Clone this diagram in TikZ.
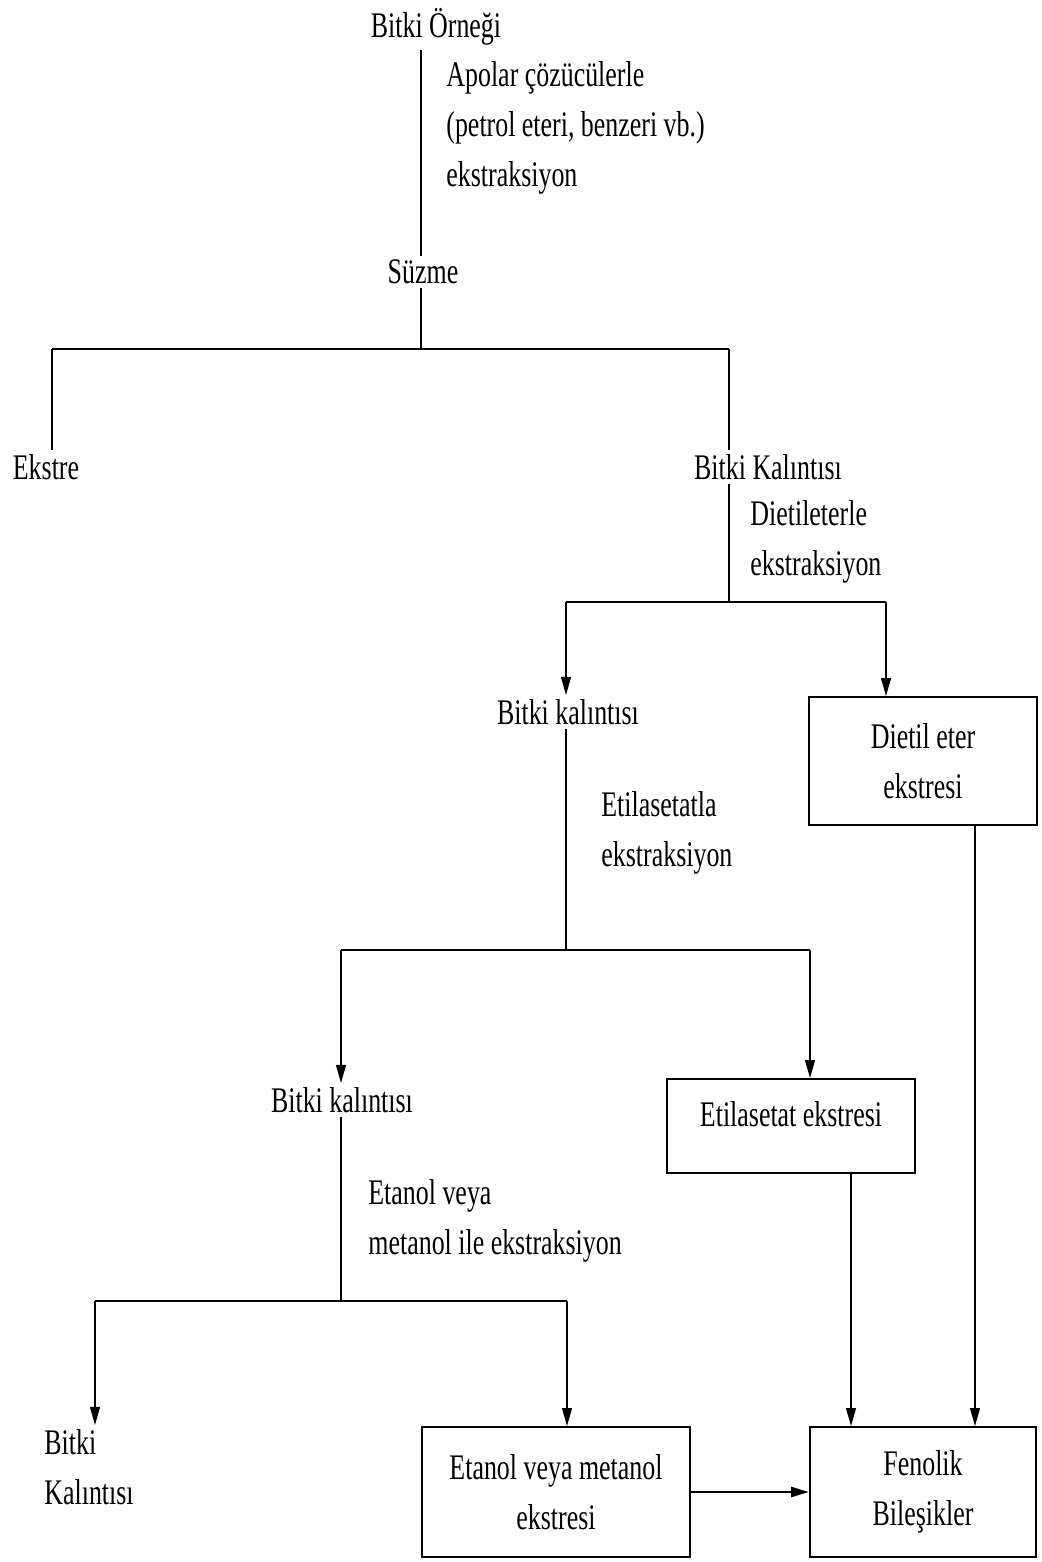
\documentclass[tikz,border=0pt]{standalone}
\usepackage{fontspec}
\setmainfont{Liberation Serif}[FakeStretch=0.72]
\usetikzlibrary{arrows.meta}

\tikzset{
  lbl/.style={inner sep=2pt, font=\fontsize{18}{25}\selectfont},
  note/.style={lbl, anchor=west, align=left},
  kutu/.style={lbl, draw, line width=1pt, align=center},
  bar/.style={line width=1.3pt},
  dusey/.style={line width=0.6pt},
  ok/.style={dusey, -{Triangle[width=5pt,length=9pt]}},
}

\begin{document}
\begin{tikzpicture}[x=0.5pt,y=-0.5pt]
        \useasboundingbox (0,0) rectangle (1041,1562);

        % branch points
        \coordinate (s1)  at (421,349);
        \coordinate (s1l) at (52,349);
        \coordinate (s1r) at (729,349);
        \coordinate (s2)  at (729,602);
        \coordinate (s2l) at (566,602);
        \coordinate (s2r) at (886,602);
        \coordinate (s3)  at (566,950);
        \coordinate (s3l) at (341,950);
        \coordinate (s3r) at (810,950);
        \coordinate (s4)  at (341,1301);
        \coordinate (s4l) at (95,1301);
        \coordinate (s4r) at (567,1301);
        \coordinate (k1)  at (851,1300);
        \coordinate (k2)  at (975,1300);

        \node (ornek)     at (436,27)   [lbl] {Bitki Örneği};
        \node (n1)        at (442,128)  [note] {Apolar çözücülerle\\(petrol eteri, benzeri vb.)\\ekstraksiyon};
        \node (suzme)     at (423,272)  [lbl] {Süzme};
        \node (ekstre)    at (46,467)   [lbl] {Ekstre};
        \node (kalinti1)  at (768,467)  [lbl] {Bitki Kalıntısı};
        \node (n2)        at (746,542)  [note] {Dietileterle\\ekstraksiyon};
        \node (kalinti2)  at (568,712)  [lbl] {Bitki kalıntısı};
        \node (dietil)    at (923,761)  [kutu,minimum width=114pt,minimum height=64pt] {Dietil eter\\ekstresi};
        \node (n3)        at (597,833)  [note] {Etilasetatla\\ekstraksiyon};
        \node (kalinti3)  at (342,1100) [lbl] {Bitki kalıntısı};
        \node (etil)      at (791,1126) [kutu,minimum width=124pt,minimum height=47pt,text depth=12pt] {Etilasetat ekstresi};
        \node (n4)        at (364,1221) [note] {Etanol veya\\metanol ile ekstraksiyon};
        \node (kalinti4)  at (40,1467)  [note] {Bitki\\Kalıntısı};
        \node (etanol)    at (556,1492) [kutu,minimum width=134pt,minimum height=65pt] {Etanol veya metanol\\ekstresi};
        \node (fenolik)   at (923,1492) [kutu,minimum width=113pt,minimum height=65pt] {Fenolik\\Bileşikler};

        \draw[dusey] (ornek.south -| s1) -- (suzme.north -| s1);
        \draw[dusey] (suzme.south -| s1) -- (s1);
        \draw[bar] (s1l) -- (s1r);
        \draw[dusey] (s1l) -- (ekstre.north -| s1l);
        \draw[dusey] (s1r) -- (kalinti1.north -| s1r);

        \draw[dusey] (kalinti1.south -| s2) -- (s2);
        \draw[bar] (s2l) -- (s2r);
        \draw[ok] (s2l) -- (kalinti2.north -| s2l);
        \draw[ok] (s2r) -- (dietil.north -| s2r);

        \draw[dusey] (kalinti2.south -| s3) -- (s3);
        \draw[bar] (s3l) -- (s3r);
        \draw[ok] (s3l) -- (kalinti3.north -| s3l);
        \draw[ok] (s3r) -- (etil.north -| s3r);

        \draw[dusey] (kalinti3.south -| s4) -- (s4);
        \draw[bar] (s4l) -- (s4r);
        \draw[ok] (s4l) -- (kalinti4.north -| s4l);
        \draw[ok] (s4r) -- (etanol.north -| s4r);

        \draw[ok,line width=1.3pt] (etanol) -- (fenolik);
        \draw[ok] (etil.south -| k1) -- (fenolik.north -| k1);
        \draw[ok] (dietil.south -| k2) -- (fenolik.north -| k2);
    \end{tikzpicture}
\end{document}
